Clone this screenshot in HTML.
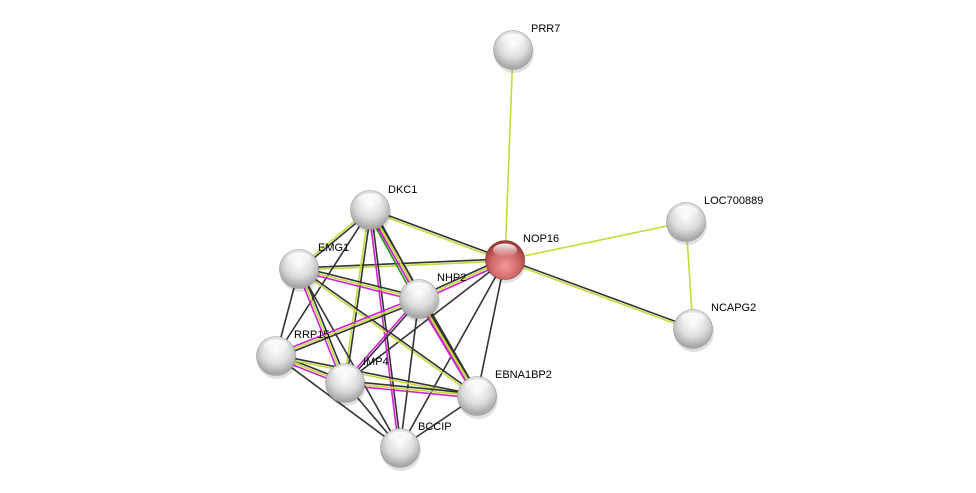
<!DOCTYPE html>
<html><head><meta charset="utf-8"><style>
html,body{margin:0;padding:0;background:#fff;width:976px;height:493px;overflow:hidden}
svg{display:block}
text{font-family:"Liberation Sans",sans-serif;font-size:11px;fill:#000}
</style></head><body>
<svg id="s" width="976" height="493" viewBox="0 0 976 493">
<defs>
<radialGradient id="g" cx="0.5" cy="0.35" r="0.6">
<stop offset="0" stop-color="#ffffff"/><stop offset="0.6" stop-color="#dcdcdc"/><stop offset="1" stop-color="#a8a8a8"/>
</radialGradient>
<radialGradient id="r" cx="0.5" cy="0.65" r="0.6">
<stop offset="0" stop-color="#f29a9a"/><stop offset="0.6" stop-color="#d06868"/><stop offset="1" stop-color="#9a3a3a"/>
</radialGradient>
<linearGradient id="h" x1="0" y1="0" x2="0" y2="1">
<stop offset="0" stop-color="#fff" stop-opacity="0.95"/><stop offset="1" stop-color="#fff" stop-opacity="0"/>
</linearGradient>
</defs>
<g id="edges"></g>
<g id="nodes"></g>
<text x="531" y="32">PRR7</text>
<text x="388" y="193">DKC1</text>
<text x="318" y="251">EMG1</text>
<text x="523" y="242">NOP16</text>
<text x="704" y="204">LOC700889</text>
<text x="437" y="281">NHP2</text>
<text x="711" y="311">NCAPG2</text>
<text x="294" y="338">RRP15</text>
<text x="363" y="365">IMP4</text>
<text x="495" y="378">EBNA1BP2</text>
<text x="418" y="430">BCCIP</text>
</svg>
<script>
var N={PRR7:[513,50],DKC1:[370,210],EMG1:[299,269],NOP16:[505,260,1],LOC:[686,222],NHP2:[419,299],NCAPG2:[693,329],RRP15:[276,356],IMP4:[345,383],EBNA:[477,396],BCCIP:[400,448]};
var K="#333",Y="#c2dc3a",M="#d21fd2",G="#1a9a1a";
var E=[
["PRR7","NOP16",[Y]],["NOP16","LOC",[Y]],["LOC","NCAPG2",[Y]],["NOP16","NCAPG2",[K,Y]],
["DKC1","NOP16",[K,Y]],["EMG1","NOP16",[K,Y]],["NHP2","NOP16",[K,Y,M]],["NOP16","EBNA",[K]],["NOP16","BCCIP",[K]],["NOP16","IMP4",[K]],
["DKC1","EMG1",[K,Y]],["DKC1","NHP2",[K,Y,M,G]],["DKC1","RRP15",[K]],["DKC1","IMP4",[K,Y]],["DKC1","BCCIP",[K,M]],["DKC1","EBNA",[K,Y,M]],
["EMG1","NHP2",[K,Y,M]],["EMG1","RRP15",[K]],["EMG1","IMP4",[K,Y,M]],["EMG1","EBNA",[K,Y]],["EMG1","BCCIP",[K]],
["NHP2","RRP15",[K,Y,M]],["NHP2","IMP4",[K,M]],["NHP2","EBNA",[K,Y,M]],["NHP2","BCCIP",[K]],
["RRP15","IMP4",[K,Y,M]],["RRP15","EBNA",[K,Y]],["RRP15","BCCIP",[K]],
["IMP4","EBNA",[K,Y,M]],["IMP4","BCCIP",[K]],["EBNA","BCCIP",[K]]];
var s="";
E.forEach(function(e){var a=N[e[0]],b=N[e[1]],dx=b[0]-a[0],dy=b[1]-a[1],l=Math.hypot(dx,dy),px=-dy/l,py=dx/l,n=e[2].length;
e[2].forEach(function(c,i){var o=(i-(n-1)/2)*2.2;s+='<line x1="'+(a[0]+px*o)+'" y1="'+(a[1]+py*o)+'" x2="'+(b[0]+px*o)+'" y2="'+(b[1]+py*o)+'" stroke="'+c+'" stroke-width="1.6"/>';});});
document.getElementById("edges").innerHTML=s;
var t="";
for(var k in N){var p=N[k];t+='<circle cx="'+(p[0]+1)+'" cy="'+(p[1]+3)+'" r="20" fill="#000" opacity="0.12"/>';
t+='<circle cx="'+p[0]+'" cy="'+p[1]+'" r="19.5" fill="url(#'+(p[2]?'r':'g')+')" stroke="'+(p[2]?'#8a3030':'#999')+'" stroke-width="0.6"/>';
t+='<ellipse cx="'+p[0]+'" cy="'+(p[1]-10)+'" rx="12" ry="6.5" fill="url(#h)"/>';}
document.getElementById("nodes").innerHTML=t;
</script>
</body></html>
